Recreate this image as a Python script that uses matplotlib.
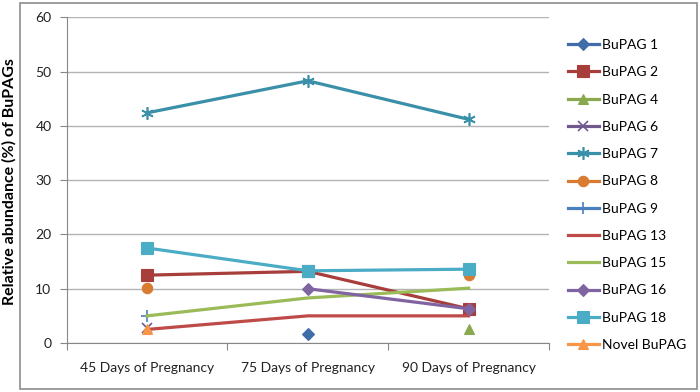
import numpy as np
import matplotlib as mpl
mpl.use('Agg')
import matplotlib.pyplot as plt
from matplotlib.patches import Rectangle

nan = np.nan

stages = ['45 Days of Pregnancy', '75 Days of Pregnancy', '90 Days of Pregnancy']
series_names = ['BuPAG 1', 'BuPAG 2', 'BuPAG 4', 'BuPAG 6', 'BuPAG 7', 'BuPAG 8',
                'BuPAG 9', 'BuPAG 13', 'BuPAG 15', 'BuPAG 16', 'BuPAG 18', 'Novel BuPAG']

bupag1 = [nan, 1.6, nan]
bupag2 = [12.5, 13.2, 6.3]
bupag4 = [nan, nan, 2.5]
bupag6 = [2.7, nan, nan]
bupag7 = [42.4, 48.3, 41.2]
bupag8 = [10.1, nan, 12.5]
bupag9 = [5.0, nan, nan]
bupag13 = [2.5, 5.0, 5.0]
bupag15 = [5.0, 8.3, 10.1]
bupag16 = [nan, 10.0, 6.3]
bupag18 = [17.5, 13.3, 13.6]
novel = [2.5, nan, nan]

values = [bupag1, bupag2, bupag4, bupag6, bupag7, bupag8,
          bupag9, bupag13, bupag15, bupag16, bupag18, novel]

colors = ['#3F6DA8', '#A73E3B', '#88A94E', '#71588F', '#3A90A8', '#D97B30',
          '#4A7FC0', '#BE4B48', '#9BBB59', '#8064A2', '#4BACC6', '#F79646']
markers = ['D', 's', '^', 'x', (6, 2, 0), 'o', '+', None, None, 'D', 's', '^']
msizes = [6, 8, 7, 7, 9, 7.5, 8, 0, 0, 6, 8, 7.5]

plt.rcParams['font.family'] = ['Lato', 'DejaVu Sans']

fig = plt.figure(figsize=(7, 3.92), dpi=100)
fig.patches.append(Rectangle((20 / 700, 3 / 392), 677 / 700, 386 / 392,
                             transform=fig.transFigure, fill=False,
                             edgecolor='#8c8c8c', lw=1.2))

ax = fig.add_axes([66.7 / 700, 1 - 343 / 392, (549 - 66.7) / 700, (343 - 17.3) / 392])

x = np.arange(len(stages)) + 0.5
for name, vals, c, m, ms in zip(series_names, values, colors, markers, msizes):
    ax.plot(x, vals, color=c, lw=2.3, marker=m, markersize=ms,
            markeredgewidth=1.2 if m in ('x', '+', (6, 2, 0)) else 0.8,
            markeredgecolor=c, label=name)

ax.set_xlim(0, 3)
ax.set_ylim(0, 60)
ax.set_yticks(range(0, 61, 10))
ax.set_xticks([0, 1, 2, 3])
ax.set_xticklabels([])
ax.set_xticks(x, minor=True)
ax.set_xticklabels(stages, minor=True, fontsize=10, color='#222222')
ax.tick_params(axis='x', which='minor', length=0, pad=14)
ax.tick_params(axis='x', which='major', length=5, color='#878787')
ax.tick_params(axis='y', length=5, color='#878787', labelsize=10, labelcolor='#222222', pad=6)

ax.yaxis.grid(True, color='#b3b3b3', lw=1)
ax.set_axisbelow(True)
for s in ['top', 'right']:
    ax.spines[s].set_visible(False)
for s in ['left', 'bottom']:
    ax.spines[s].set_color('#878787')

# y label sits left of the chart border, as in the source
fig.text(9 / 700, 1 - 182 / 392, 'Relative abundance (%) of BuPAGs', rotation=90,
         ha='center', va='center', fontsize=11.5, fontweight='bold')

leg = ax.legend(loc='upper left', bbox_to_anchor=(568 / 700, 1 - 39 / 392),
                bbox_transform=fig.transFigure, frameon=False, fontsize=10,
                handlelength=2.2, handletextpad=0.25, labelspacing=1.1,
                borderaxespad=0, borderpad=0)

plt.savefig('out.png', dpi=100)
